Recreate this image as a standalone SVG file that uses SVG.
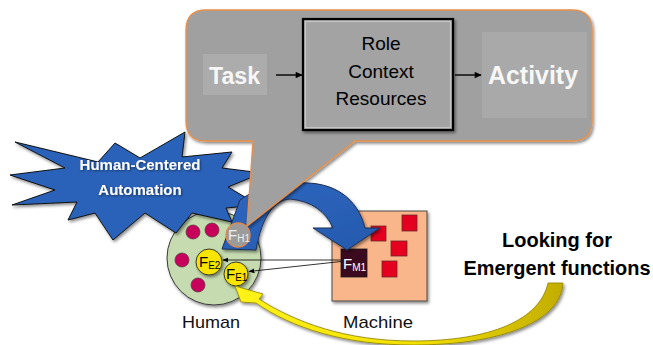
<svg xmlns="http://www.w3.org/2000/svg" width="653" height="345" viewBox="0 0 653 345">
  <defs>
    <filter id="shadow" x="-20%" y="-20%" width="140%" height="140%">
      <feDropShadow dx="1.5" dy="2" stdDeviation="1.5" flood-color="#000" flood-opacity="0.45"/>
    </filter>
    <filter id="textShadow" x="-10%" y="-20%" width="120%" height="140%">
      <feDropShadow dx="1" dy="1" stdDeviation="0.8" flood-color="#000" flood-opacity="0.5"/>
    </filter>
    <marker id="arrowSmall" viewBox="0 0 10 10" refX="9" refY="5" markerWidth="6" markerHeight="6" orient="auto" markerUnits="userSpaceOnUse">
      <path d="M0,1 L10,5 L0,9 Z" fill="#000"/>
    </marker>
    <marker id="arrowFlow" viewBox="0 0 10 10" refX="9" refY="5" markerWidth="8" markerHeight="7" orient="auto" markerUnits="userSpaceOnUse">
      <path d="M0,0.5 L10,5 L0,9.5 Z" fill="#000"/>
    </marker>
    <linearGradient id="goldArc" x1="1" y1="0" x2="0" y2="0">
      <stop offset="0" stop-color="#c2ad00"/>
      <stop offset="0.45" stop-color="#f2e000"/>
      <stop offset="1" stop-color="#fff31a"/>
    </linearGradient>
    <linearGradient id="blueBody" x1="0" y1="0" x2="1" y2="1">
      <stop offset="0" stop-color="#2f68bf"/>
      <stop offset="1" stop-color="#2459ad"/>
    </linearGradient>
  </defs>
  <style>
    .lbl { font-family: "Liberation Sans", Arial, sans-serif; }
    .bold { font-weight: bold; }
    .dot { fill: #c7005b; stroke: #5a3a40; stroke-width: 0.8; }
    .fnE { fill: #f7e500; stroke: #3a3a2a; stroke-width: 1; }
    .redSq { fill: #e60020; stroke: #6a2a2a; stroke-width: 0.8; }
    .link { stroke: #000; stroke-width: 0.8; fill: none; }
    .fl { font-family: "Liberation Sans", Arial, sans-serif; }
  </style>

  <!-- Human: function pool -->
  <g id="human">
    <circle cx="214" cy="258" r="47" fill="#c6dcb0" stroke="#3a3a3a" stroke-width="1" filter="url(#shadow)"/>
    <circle class="dot" cx="193" cy="232" r="7"/>
    <circle class="dot" cx="212" cy="230" r="7"/>
    <circle class="dot" cx="182" cy="260" r="7"/>
    <circle class="dot" cx="198" cy="285" r="7"/>
  </g>

  <!-- Burst label -->
  <g id="hca">
    <polygon points="15,142 98,162 115,143 140,158 185,132 182,157 232,152 222,168 262,173 228,187 258,205 226,208 232,222 192,213 176,233 145,213 113,240 95,213 68,220 77,202 12,205 55,190 10,175 65,168"
             fill="#2a62b9" stroke="#111" stroke-width="1" stroke-linejoin="miter" filter="url(#shadow)"/>
    <g class="lbl bold" font-size="15" fill="#fff" text-anchor="middle" filter="url(#textShadow)">
      <text x="140" y="170">Human-Centered</text>
      <text x="140" y="195">Automation</text>
    </g>
  </g>

  <!-- Machine: function pool -->
  <g id="machine">
    <rect x="332" y="211" width="95" height="90" fill="#f9b68b" stroke="#4a4a4a" stroke-width="1" filter="url(#shadow)"/>
    <rect class="redSq" x="371" y="226" width="15" height="15"/>
    <rect class="redSq" x="402" y="215" width="15" height="16"/>
    <rect class="redSq" x="391" y="241" width="16" height="15"/>
    <rect class="redSq" x="382" y="261" width="15" height="16"/>
  </g>

  <g id="fm1">
    <rect x="341" y="249" width="26" height="28" fill="#3b0a1f" stroke="#1a1a1a" stroke-width="0.8"/>
    <text class="fl" x="343" y="269" font-size="15" fill="#fff">F<tspan font-size="10" dy="2">M1</tspan></text>
  </g>

  <!-- Allocation arrow: from F_H1 to F_M1 -->
  <g id="allocation">
    <path d="M222,249 L240,200 C260,186 280,182 298,183 C336,181 358,200 365,228 L380,228 L347,250 L313,228 L333,228 C326,212 312,201 290,199 C275,200 262,215 256,250 Z"
          fill="url(#blueBody)" stroke="#1d2f55" stroke-width="1" filter="url(#shadow)"/>
  </g>

  <!-- Callout: task / activity -->
  <g id="callout">
    <path d="M206,10 H572 Q592,10 592,30 V121 Q592,141 572,141 H355 L247,226 L253,141 H206 Q186,141 186,121 V30 Q186,10 206,10 Z"
          fill="#a0a0a0" stroke="#e8904a" stroke-width="1.3" filter="url(#shadow)"/>
  </g>

  <g id="task">
    <rect x="203" y="54" width="64" height="41" fill="#acacac"/>
    <text class="lbl bold" x="209" y="84" font-size="24" fill="#f7f7f7" textLength="51" lengthAdjust="spacingAndGlyphs">Task</text>
  </g>

  <g id="context">
    <rect x="303" y="19" width="150" height="111" fill="#a3a3a3" stroke="#000" stroke-width="2.2" filter="url(#shadow)"/>
    <rect x="305.5" y="21.5" width="145" height="106" fill="none" stroke="#c4c4c4" stroke-width="1.2"/>
    <g class="lbl" font-size="19" fill="#000" text-anchor="middle">
      <text x="381" y="50">Role</text>
      <text x="381" y="78">Context</text>
      <text x="381" y="105">Resources</text>
    </g>
  </g>

  <g id="activity">
    <rect x="482" y="32" width="105" height="86" fill="#a9a9a9"/>
    <text class="lbl bold" x="488" y="84" font-size="25" fill="#f7f7f7" textLength="90" lengthAdjust="spacingAndGlyphs">Activity</text>
  </g>

  <g id="fh1">
    <circle cx="238" cy="235" r="12" fill="#9b9b9b" stroke="#e08a4a" stroke-width="1.3"/>
    <text class="fl" x="228" y="240" font-size="15" fill="#eeeeee">F<tspan font-size="10" dy="2">H1</tspan></text>
  </g>

  <g id="fe2">
    <circle class="fnE" cx="209" cy="262" r="13" filter="url(#shadow)"/>
    <text class="fl" x="199" y="267" font-size="15" fill="#000">F<tspan font-size="10" dy="2">E2</tspan></text>
  </g>

  <g id="fe1">
    <circle class="fnE" cx="236" cy="274" r="12" filter="url(#shadow)"/>
    <text class="fl" x="226" y="279" font-size="15" fill="#000">F<tspan font-size="10" dy="2">E1</tspan></text>
  </g>

  <!-- Connectors -->
  <g id="connectors">
    <line x1="276" y1="75" x2="302" y2="75" stroke="#000" stroke-width="1.4" marker-end="url(#arrowFlow)"/>
    <line x1="455" y1="75" x2="481" y2="75" stroke="#000" stroke-width="1.4" marker-end="url(#arrowFlow)"/>
    <line class="link" x1="341" y1="260" x2="223" y2="260" marker-end="url(#arrowSmall)"/>
    <line class="link" x1="341" y1="261.5" x2="249" y2="271.5" marker-end="url(#arrowSmall)"/>
    <path id="emergence" d="M563,283 C561,322 500,345 413,345 C345,345 292,328 256,303 L241,302 L235,286 L263,294 L259,299 C295,322 345,341 413,341 C490,341 540,320 548,283 Z"
          fill="url(#goldArc)" stroke="#8f8100" stroke-width="0.8" filter="url(#shadow)"/>
  </g>

  <!-- Captions -->
  <g id="captions" class="lbl" fill="#111">
    <text x="182" y="328" font-size="17" textLength="58" lengthAdjust="spacingAndGlyphs">Human</text>
    <text x="343" y="328" font-size="17" textLength="70" lengthAdjust="spacingAndGlyphs">Machine</text>
    <g class="bold" font-size="20" fill="#000" text-anchor="middle">
      <text x="557" y="247">Looking for</text>
      <text x="557" y="275" textLength="187" lengthAdjust="spacingAndGlyphs">Emergent functions</text>
    </g>
  </g>
</svg>
